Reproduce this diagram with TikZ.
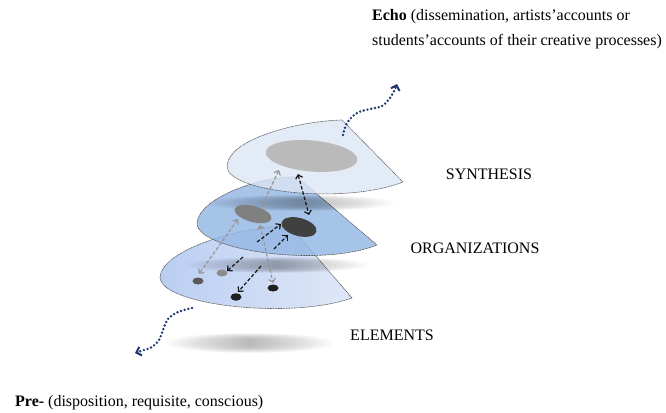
\documentclass[tikz,border=0pt]{standalone}
\usepackage{fontspec}
\setmainfont{Liberation Serif}
\usetikzlibrary{arrows.meta,shapes.geometric}
\definecolor{navy}{RGB}{31,56,112}
\definecolor{topfill}{RGB}{220,230,245}
\definecolor{midfill}{RGB}{150,184,228}
\definecolor{botleft}{RGB}{186,206,242}
\definecolor{botright}{RGB}{224,232,247}
\definecolor{edgegray}{RGB}{85,85,85}
\definecolor{arrgray}{RGB}{150,150,150}
\definecolor{arrblack}{RGB}{20,20,20}
\newcommand\softshadowm[5]{%
  \foreach \k in {1,...,20}{\fill[black,opacity=#5] (#1,#2) ellipse ({#3*\k/20} and {#4*(0.4+0.6*\k/20)});}}
\tikzset{
  layeredge/.style={draw=edgegray, line width=0.6pt, dash pattern=on 1pt off 0.6pt},
  dasharr/.style={line width=1.2pt, dash pattern=on 3.5pt off 2pt},
  dbl/.style={arrows={Straight Barb[length=3.5pt,width=7pt]-Straight Barb[length=3.5pt,width=7pt]}},
  sgl/.style={arrows={-Straight Barb[length=3.5pt,width=7pt]}},
  grayarr/.style={dasharr, draw=arrgray},
  blackarr/.style={dasharr, draw=arrblack},
  wavy/.style={draw=navy, line width=2.7pt, line cap=round, dash pattern=on 0pt off 3.8pt,
    arrows={-Straight Barb[length=4.5pt,width=9pt,line width=2pt]}},
  blob/.style={ellipse, inner sep=0pt, draw=none},
  lbl/.style={font=\fontsize{16}{19}\selectfont, inner sep=0pt, text=black},
}
\begin{document}
\begin{tikzpicture}[x=1pt,y=-1pt]
\useasboundingbox (0,0) rectangle (666,412);
% ground shadow
\softshadowm{250}{343}{85}{10}{0.016}
% bottom layer
\path[left color=botleft, right color=botright, layeredge]
  (290,226) .. controls (240,226) and (162,250) .. (160,277)
  .. controls (160,305) and (290,320) .. (352,298) -- cycle;
% shadow of middle layer
\softshadowm{277}{265}{92}{8}{0.016}
% dots of bottom layer
\node[blob, fill=black!65, minimum width=11pt, minimum height=7pt] (dotA) at (198,281) {};
\node[blob, fill=black!45, minimum width=11pt, minimum height=7pt] (dotB) at (222,273) {};
\node[blob, fill=black!88, minimum width=11pt, minimum height=7.5pt] (dotC) at (236,297) {};
\node[blob, fill=black!88, minimum width=11pt, minimum height=7pt] (dotD) at (273,288) {};
% middle layer
\path[fill=midfill, fill opacity=0.85, layeredge]
  (297,177) .. controls (260,176) and (199,198) .. (197,223)
  .. controls (196,250) and (320,268) .. (377,245) -- cycle;
% shadow of top layer
\softshadowm{300}{203}{95}{8}{0.016}
% middle blobs
\node[blob, fill=black!50, minimum width=38pt, minimum height=16pt, rotate=-15] (orgA) at (253,214) {};
\node[blob, fill=black!75, minimum width=36pt, minimum height=18pt, rotate=-15] (orgB) at (299,227) {};
% top layer
\path[fill=topfill, fill opacity=0.8, layeredge]
  (342,120) .. controls (300,121) and (229,138) .. (227,166)
  .. controls (226,192) and (345,205) .. (403,182) -- cycle;
\node[blob, fill=black!27, minimum width=92pt, minimum height=31pt, rotate=-5] (syn) at (311.5,156) {};
% arrow end points
\coordinate (a1) at (279,170); \coordinate (a2) at (262,206);
\coordinate (b1) at (298,174); \coordinate (b2) at (309,215);
\coordinate (c1) at (238,219); \coordinate (c2) at (199,274);
\coordinate (d1) at (260,225); \coordinate (d2) at (273,283);
\coordinate (e1) at (257,242); \coordinate (e2) at (281,224);
\coordinate (f1) at (274,249); \coordinate (f2) at (288,235);
\coordinate (g1) at (243,257); \coordinate (g2) at (227,271);
\coordinate (h1) at (261,266); \coordinate (h2) at (238,292);
\draw[grayarr, dbl] (a1) -- (a2);
\draw[blackarr, dbl] (b1) -- (b2);
\draw[grayarr, dbl] (c1) -- (c2);
\draw[grayarr, dbl] (d1) -- (d2);
\draw[blackarr, sgl] (e1) -- (e2);
\draw[blackarr, sgl] (f1) -- (f2);
\draw[blackarr, sgl] (g1) -- (g2);
\draw[blackarr, sgl] (h1) -- (h2);
% wavy arrows
\coordinate (ws1) at (343,135); \coordinate (we1) at (397,84);
\coordinate (ws2) at (192,308); \coordinate (we2) at (135,353);
\draw[wavy] plot[smooth, tension=0.6] coordinates {(ws1) (347,123) (357,113) (370,109) (382,106) (390,98) (395,89) (we1)};
\draw[wavy] plot[smooth, tension=0.6] coordinates {(ws2) (178,312) (168,319) (163,330) (159,340) (152,347) (144,350) (we2)};
% labels
\node[lbl, anchor=base west] (echo1) at (372,21) {\textbf{Echo} (dissemination, artists’accounts or};
\node[lbl, anchor=base west] (echo2) at (372,46) {students’accounts of their creative processes)};
\node[lbl] (synl) at (489,174) {SYNTHESIS};
\node[lbl] (orgl) at (475,248) {ORGANIZATIONS};
\node[lbl] (elel) at (392,335) {ELEMENTS};
\node[lbl, anchor=base west] (pre) at (15,406) {\textbf{Pre-} (disposition, requisite, conscious)};
\end{tikzpicture}
\end{document}
